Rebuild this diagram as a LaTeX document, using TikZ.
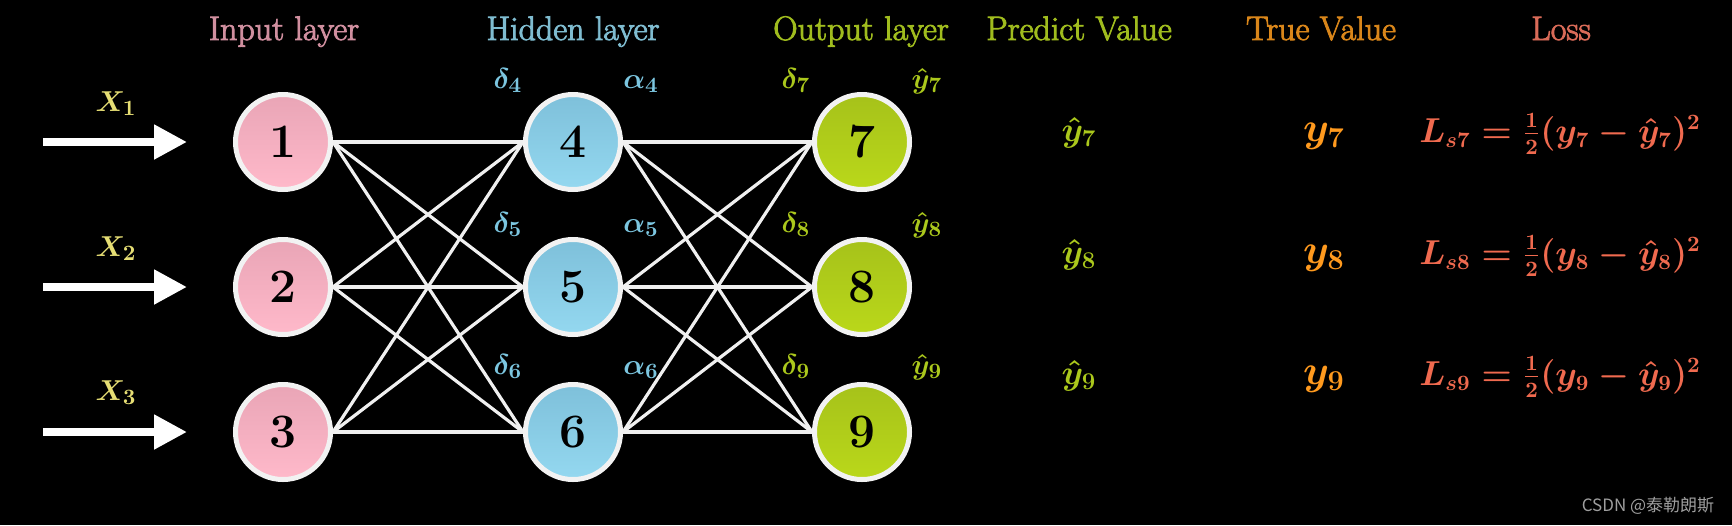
\documentclass[tikz,border=0pt]{standalone}
\usepackage{fontspec}
\newfontfamily\cjkfont{Noto Sans CJK SC}
\newfontfamily\hdrfont[FakeBold=2.5]{Latin Modern Roman}
\usetikzlibrary{arrows.meta}
\definecolor{xcol}{HTML}{E6DE74}
\definecolor{inputhd}{HTML}{D08F9F}
\definecolor{hiddenhd}{HTML}{7FBCD0}
\definecolor{hidlab}{HTML}{7CC6E0}
\definecolor{outhd}{HTML}{A0BC1E}
\definecolor{outlab}{HTML}{ABC81C}
\definecolor{truehd}{HTML}{D9861A}
\definecolor{trueval}{HTML}{FF9A1E}
\definecolor{losshd}{HTML}{D96B58}
\definecolor{lossval}{HTML}{F06A4F}
\definecolor{wm}{HTML}{9E9E9E}
\definecolor{pinkT}{HTML}{E9A5B6}
\definecolor{pinkB}{HTML}{FFB9CA}
\definecolor{blueT}{HTML}{7EC0DA}
\definecolor{blueB}{HTML}{94D8F0}
\definecolor{greenT}{HTML}{A6C21A}
\definecolor{greenB}{HTML}{BAD81A}
\definecolor{nborder}{HTML}{F2F2F2}
\pgfdeclarelayer{bg}
\pgfdeclarelayer{edges}
\pgfsetlayers{bg,edges,main}
\begin{document}
\begin{tikzpicture}[x=0.5pt,y=-0.5pt,
  neuron/.style={circle, draw=nborder, line width=2.5pt, minimum size=47.5pt,
    inner sep=0pt, font=\fontsize{24}{24}\selectfont\bfseries, text=black},
  pinkn/.style={neuron, top color=pinkT, bottom color=pinkB},
  bluen/.style={neuron, top color=blueT, bottom color=blueB},
  greenn/.style={neuron, top color=greenT, bottom color=greenB},
  edge/.style={draw=white!94!black, line width=1.6pt},
  inarrow/.style={draw=white, line width=4pt, -{Triangle[length=16.5pt 0 0, width=16.5pt 0 0]}},
  hdr/.style={anchor=base, font=\hdrfont\fontsize{17}{17}\selectfont},
  lab/.style={anchor=base, font=\fontsize{15}{15}\selectfont\boldmath},
  pval/.style={anchor=base, font=\fontsize{17}{17}\selectfont\boldmath, text=outlab},
  tval/.style={anchor=base, font=\fontsize{20}{20}\selectfont\boldmath, text=trueval},
  lval/.style={anchor=base, font=\fontsize{16}{16}\selectfont\boldmath, text=lossval}
]
\begin{pgfonlayer}{bg}
\fill[black] (0,0) rectangle (1732,525);
\end{pgfonlayer}
\useasboundingbox (0,0) rectangle (1732,525);

% headers
\node[hdr, text=inputhd] (h1) at (284,40) {Input layer};
\node[hdr, text=hiddenhd] (h2) at (573,40) {Hidden layer};
\node[hdr, text=outhd] (h3) at (861,40) {Output layer};
\node[hdr, text=outhd] (h4) at (1079,40) {Predict Value};
\node[hdr, text=truehd] (h5) at (1321,40) {True Value};
\node[hdr, text=losshd] (h6) at (1561,40) {Loss};

% neurons
\node[pinkn] (n1) at (283,142) {1};
\node[pinkn] (n2) at (283,287) {2};
\node[pinkn] (n3) at (283,432) {3};
\node[bluen] (n4) at (573,142) {4};
\node[bluen] (n5) at (573,287) {5};
\node[bluen] (n6) at (573,432) {6};
\node[greenn] (n7) at (862,142) {7};
\node[greenn] (n8) at (862,287) {8};
\node[greenn] (n9) at (862,432) {9};

% edges
\begin{pgfonlayer}{edges}
\foreach \a in {1,2,3}
  \foreach \b in {4,5,6}
    \draw[edge] (n\a.east) -- (n\b.west);
\foreach \a in {4,5,6}
  \foreach \b in {7,8,9}
    \draw[edge] (n\a.east) -- (n\b.west);
\end{pgfonlayer}

% input arrows
\coordinate (s1) at (43,142);  \coordinate (t1) at (187,142);
\coordinate (s2) at (43,287);  \coordinate (t2) at (187,287);
\coordinate (s3) at (43,432);  \coordinate (t3) at (187,432);
\draw[inarrow] (s1) -- (t1);
\draw[inarrow] (s2) -- (t2);
\draw[inarrow] (s3) -- (t3);
\node[lab, text=xcol] (x1) at (116,111) {$X_1$};
\node[lab, text=xcol] (x2) at (116,256) {$X_2$};
\node[lab, text=xcol] (x3) at (116,400) {$X_3$};

% hidden labels
\node[lab, text=hidlab] (d4) at (508,88) {$\delta_4$};
\node[lab, text=hidlab] (a4) at (641,88) {$\alpha_4$};
\node[lab, text=hidlab] (d5) at (508,232) {$\delta_5$};
\node[lab, text=hidlab] (a5) at (641,232) {$\alpha_5$};
\node[lab, text=hidlab] (d6) at (508,374) {$\delta_6$};
\node[lab, text=hidlab] (a6) at (641,374) {$\alpha_6$};

% output labels
\node[lab, text=outlab] (d7) at (796,88) {$\delta_7$};
\node[lab, text=outlab] (y7s) at (927,88) {$\hat{y}_7$};
\node[lab, text=outlab] (d8) at (796,232) {$\delta_8$};
\node[lab, text=outlab] (y8s) at (927,232) {$\hat{y}_8$};
\node[lab, text=outlab] (d9) at (796,374) {$\delta_9$};
\node[lab, text=outlab] (y9s) at (927,374) {$\hat{y}_9$};

% predicted values
\node[pval] (p7) at (1079,141) {$\hat{y}_7$};
\node[pval] (p8) at (1079,263) {$\hat{y}_8$};
\node[pval] (p9) at (1079,384) {$\hat{y}_9$};

% true values
\node[tval] (t7) at (1324,141) {$y_7$};
\node[tval] (t8) at (1324,263) {$y_8$};
\node[tval] (t9) at (1324,384) {$y_9$};

% losses
\node[lval] (l7) at (1560,142) {$L_{s7}=\frac{1}{2}(y_7-\hat{y}_7)^2$};
\node[lval] (l8) at (1560,264) {$L_{s8}=\frac{1}{2}(y_8-\hat{y}_8)^2$};
\node[lval] (l9) at (1560,385) {$L_{s9}=\frac{1}{2}(y_9-\hat{y}_9)^2$};

% watermark
\node[text=wm, font=\cjkfont\fontsize{8.5}{8.5}\selectfont] (wmk) at (1648,506) {CSDN @泰勒朗斯};
\end{tikzpicture}
\end{document}
